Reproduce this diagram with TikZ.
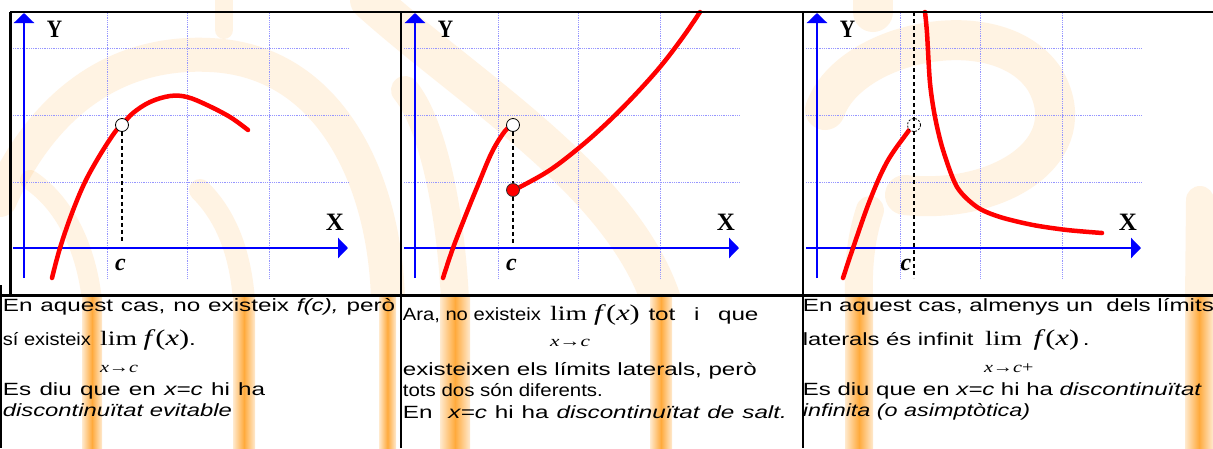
\documentclass[tikz,border=0pt]{standalone}
\usepackage{fontspec}
\usepackage{graphicx}
\setmainfont{Liberation Sans}
\newfontfamily\txt[FakeStretch=1.37]{Liberation Sans}
\newfontfamily\tnr[FakeStretch=1.35]{Liberation Serif}
\newfontfamily\lbl{Liberation Serif}
\usetikzlibrary{arrows.meta}
\definecolor{gridc}{RGB}{150,150,255}
\definecolor{axisc}{RGB}{0,0,255}
\definecolor{curvec}{RGB}{255,0,0}
\definecolor{wm}{RGB}{255,170,60}
\newlength\natw
\newcommand{\jl}[2]{\settowidth{\natw}{#2}\ifdim\natw<#1pt\makebox[#1pt][s]{#2}\else\resizebox{#1pt}{\height}{#2}\fi}
\newcommand{\fit}[2]{\resizebox{#1pt}{\height}{#2}}
\tikzset{
  gridline/.style={gridc, densely dotted, line width=0.8pt},
  axisline/.style={axisc, line width=2.6pt, -{Triangle[width=20pt,length=10pt]}},
  curve/.style={curvec, line width=4.5pt, line cap=round, line join=round},
  guide/.style={black, dash pattern=on 4pt off 3pt, line width=1.1pt},
  openpt/.style={circle, draw=black, fill=white, line width=0.8pt, minimum size=13pt, inner sep=0pt},
  fullpt/.style={circle, draw=black!80, fill=curvec, line width=0.8pt, minimum size=13pt, inner sep=0pt},
  axlabel/.style={font=\lbl\bfseries\fontsize{25}{25}\selectfont, inner sep=0pt},
  clabel/.style={font=\lbl\bfseries\itshape\fontsize{24}{24}\selectfont, inner sep=0pt},
  tline/.style={anchor=base west, inner sep=0pt, font=\txt\fontsize{17.7}{20}\selectfont},
  limtxt/.style={anchor=base west, inner sep=0pt, font=\tnr\fontsize{20.5}{20}\selectfont},
  fxtxt/.style={anchor=base west, inner sep=0pt, font=\tnr\fontsize{22.5}{24}\selectfont},
  subtxt/.style={anchor=base, inner sep=0pt, font=\tnr\fontsize{15.5}{16}\selectfont},
  border/.style={black, line width=2.2pt},
  wmband/.style={left color=wm!25, right color=wm!25, middle color=wm},
  wmstroke/.style={wm, opacity=0.14, line cap=round},
}
\newcommand{\panelaxes}[1]{%
  \begin{scope}[xshift=#1pt]
    \foreach \u in {83,163,245} \draw[gridline] (\u,13) -- (\u,278);
    \foreach \v in {48,115,182} \draw[gridline] (-11,\v) -- (324,\v);
    \draw[axisline] (0,278) -- (0,13);
    \draw[axisline] (-11,248) -- (324,248);
    \node[axlabel] at (30.5,29) {\scalebox{0.85}[1]{Y}};
    \node[axlabel] at (311,222) {X};
  \end{scope}}
\begin{document}
\begin{tikzpicture}[x=1pt,y=-1pt]
\useasboundingbox (0,0) rectangle (1213,448);
\fill[white] (0,0) rectangle (1213,448);
% faint watermark (upper row)
\begin{scope}
  \clip (0,0) rectangle (1213,294);
  \draw[wmstroke, line width=34pt] (388,300) .. controls (385,180) and (330,60) .. (210,55) .. controls (110,50) and (40,110) .. (0,200);
  \draw[wmstroke, line width=22pt] (244,300) .. controls (240,250) and (225,215) .. (200,190);
  \draw[wmstroke, line width=20pt] (92,300) .. controls (85,240) and (60,200) .. (30,180);
  \draw[wmstroke, line width=18pt] (224,0) -- (224,30);
  \draw[wmstroke, line width=40pt] (370,0) .. controls (470,90) and (620,180) .. (661,300);
  \draw[wmstroke, line width=28pt] (455,300) .. controls (450,200) and (430,120) .. (405,90);
  \draw[wmstroke, line width=40pt] (825,110) .. controls (850,40) and (1000,10) .. (1045,80) .. controls (1085,150) and (1000,205) .. (905,195);
  \draw[wmstroke, line width=28pt] (859,300) .. controls (858,270) and (860,240) .. (870,210);
  \draw[wmstroke, line width=28pt] (1199,300) -- (1200,200);
  \draw[wmstroke, line width=40pt] (873,0) -- (873,12);
\end{scope}
% watermark bands (text row)
\foreach \a/\b in {82/102, 233/255, 379/396, 440/470, 650/672, 845/873, 1185/1213}
  \shade[wmband] (\a,296) rectangle (\b,448);
% panels
\panelaxes{24}
\panelaxes{415}
\panelaxes{817}
% panel 1
\node[clabel] (c1) at (120.5,264.5) {c};
\draw[curve] plot[smooth, tension=0.6] coordinates {(52,278) (60,248) (72,213) (85,182) (100,155) (115,132) (122,125) (133,113) (150,102) (170,96) (187,97) (207,105) (230,117) (248,130)};
\node[openpt] (p1) at (122,125) {};
\coordinate (a1) at (122,243);
\draw[guide] (p1) -- (a1);
% panel 2
\node[clabel] (c2) at (511.5,264.5) {c};
\draw[curve] plot[smooth, tension=0.6] coordinates {(443,278) (453,248) (467,212) (478,185) (492,152) (505,131) (513,125)};
\draw[curve] plot[smooth, tension=0.6] coordinates {(513,190) (520,187) (550,170) (580,147) (607,123) (633,97) (660,67) (683,37) (700,12)};
\node[openpt] (p2) at (513,125) {};
\node[fullpt] (q2) at (513,190) {};
\coordinate (a2) at (513,243);
\draw[guide] (p2) -- (q2);
\draw[guide] (q2) -- (a2);
% panel 3
\node[clabel] (c3) at (906,264.5) {c};
\draw[curve] plot[smooth, tension=0.6] coordinates {(843,278) (853,248) (870,200) (887,162) (907,133) (912,127)};
\draw[curve] plot[smooth, tension=0.5] coordinates {(925,12) (927,33) (930,83) (935,117) (943,150) (957,187) (977,207) (1000,217) (1033,225) (1067,230) (1102,233)};
\node[openpt, dash pattern=on 2pt off 1.5pt] (p3) at (914,125) {};
\coordinate (top3) at (914,12);
\coordinate (bot3) at (914,278);
\draw[guide] (top3) -- (bot3);
% borders
\draw[border] (10,12) -- (1213,12);
\draw[border] (10.5,12) -- (10.5,296);
\draw[border] (1,285) -- (1,448);
\draw[border] (0,295.5) -- (1213,295.5);
\draw[border] (401,12) -- (401,448);
\draw[border] (802.7,12) -- (802.7,448);
% texts panel 1
\node[tline] (t11) at (2.7,311.7) {\jl{392.3}{En aquest cas, no existeix \textit{f(c),} però}};
\node[tline] (t12) at (2.7,345) {\jl{88}{sí existeix}};
\node[limtxt] (l1) at (100,345) {lim};
\node[subtxt] (s1) at (119,372) {\fit{38}{\textit{x}→\textit{c}}};
\node[fxtxt] (f1) at (143.3,345) {\textit{f}(\textit{x})};
\node[tline] (d1) at (189,345) {.};
\node[tline] (t13) at (2.7,395) {\jl{262.3}{Es diu que en \textit{x=c} hi ha}};
\node[tline] (t14) at (2.7,416.7) {\jl{229}{\textit{discontinuïtat evitable}}};
% texts panel 2
\node[tline] (t21) at (402.7,320) {\jl{138}{Ara, no existeix}};
\node[limtxt] (l2) at (550,320) {lim};
\node[subtxt] (s2) at (570,346.7) {\fit{40}{\textit{x}→\textit{c}}};
\node[fxtxt] (f2) at (594,320) {\textit{f}(\textit{x})};
\node[tline] (t21b) at (648.3,320) {\jl{110}{tot i que}};
\node[tline] (t22) at (402.7,375) {\jl{354}{existeixen els límits laterals, però}};
\node[tline] (t23) at (402.7,396.7) {\jl{200}{tots dos són diferents.}};
\node[tline] (t24) at (402.7,418.3) {\jl{384}{En\ \ \textit{x=c} hi ha \textit{discontinuïtat de salt.}}};
% texts panel 3
\node[tline] (t31) at (802.7,311.7) {\jl{411}{En aquest cas, almenys un\ \ dels límits}};
\node[tline] (t32) at (802.7,345) {\jl{170.6}{laterals és infinit}};
\node[limtxt] (l3) at (985,345) {lim};
\node[subtxt] (s3) at (1008.7,372) {\fit{49.3}{\textit{x}→\textit{c}+}};
\node[fxtxt] (f3) at (1033.3,345) {\textit{f}(\textit{x})};
\node[tline] (d3) at (1082.7,345) {.};
\node[tline] (t33) at (802.7,395) {\jl{399}{Es diu que en \textit{x=c} hi ha \textit{discontinuïtat}}};
\node[tline] (t34) at (802.7,416.7) {\jl{227.3}{\textit{infinita (o asimptòtica)}}};
\end{tikzpicture}
\end{document}
